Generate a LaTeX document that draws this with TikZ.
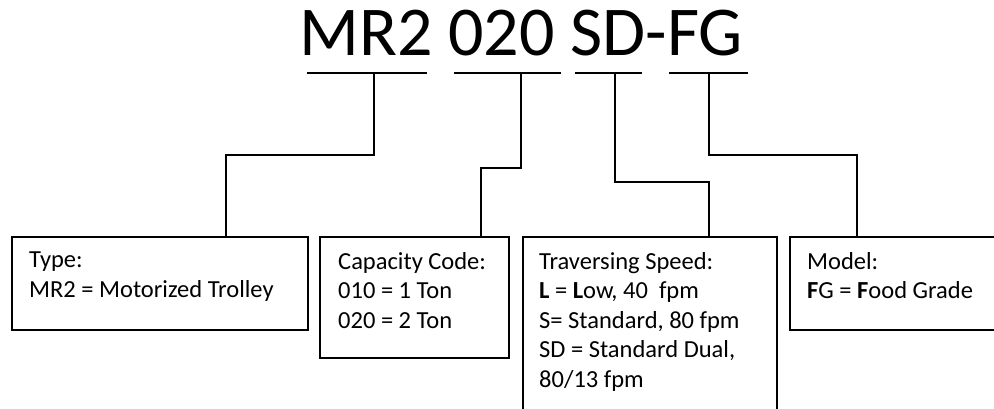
\documentclass[tikz,border=0pt]{standalone}
\usepackage{fontspec}
\setmainfont{Carlito}
\begin{document}
\begin{tikzpicture}[
  x=1pt, y=-1pt,
  box/.style={rectangle, draw, line width=1.6pt, anchor=north west, inner sep=0pt},
  lbl/.style={anchor=north west, align=left, inner sep=0pt,
              font=\fontsize{24.5}{29.5}\selectfont},
  wire/.style={line width=1.5pt}
]
  \useasboundingbox (0,0) rectangle (994,408);

  % Code
  \node[anchor=base west, inner sep=0pt, font=\fontsize{70}{70}\selectfont]
    (code) at (299,55) {MR2 020 SD-FG};

  % Underlines
  \draw[wire] (307,73) -- (427,73);
  \draw[wire] (454,73) -- (561,73);
  \draw[wire] (575,73) -- (642,73);
  \draw[wire] (669,73) -- (748,73);
  \coordinate (mr2) at (374,73);
  \coordinate (cap) at (521,73);
  \coordinate (spd) at (615,73);
  \coordinate (fg) at (709,73);

  % Boxes
  \node[box, minimum width=296, minimum height=93] (type) at (11,236) {};
  \node[box, minimum width=189, minimum height=121] (capy) at (319,236) {};
  \node[box, minimum width=254, minimum height=190] (trav) at (522,236) {};
  \node[box, minimum width=230, minimum height=93] (model) at (789,236) {};

  \node[lbl] (typetxt) at ([shift={(18,16)}]type.north west)
    {Type:\\MR2 = Motorized Trolley};
  \node[lbl] (capytxt) at ([shift={(19,16)}]capy.north west)
    {Capacity Code:\\010 = 1 Ton\\020 = 2 Ton};
  \node[lbl] (travtxt) at ([shift={(17,16)}]trav.north west)
    {Traversing Speed:\\\textbf{L} = \textbf{L}ow, 40~ fpm\\S= Standard, 80 fpm\\SD = Standard Dual,\\80/13 fpm};
  \node[lbl] (modeltxt) at ([shift={(18,16)}]model.north west)
    {Model:\\\textbf{F}G = \textbf{F}ood Grade};

  % Connectors
  \coordinate (typein) at (226,236);
  \coordinate (capyin) at (481,236);
  \coordinate (travin) at (709,236);
  \coordinate (modelin) at (857,236);
  \draw[wire] (mr2) -- ++(0,82) -| (typein);
  \draw[wire] (cap) -- ++(0,95) -| (capyin);
  \draw[wire] (spd) -- ++(0,109) -| (travin);
  \draw[wire] (fg) -- ++(0,82) -| (modelin);
\end{tikzpicture}
\end{document}
